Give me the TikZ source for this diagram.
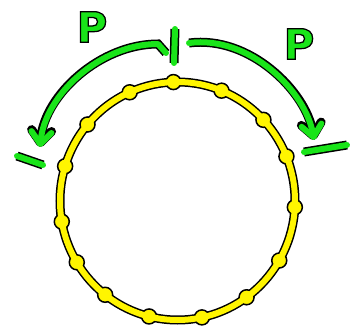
\documentclass[tikz,border=0pt]{standalone}
\usepackage{tikz}
\usepackage{fontspec}
\usetikzlibrary{arrows.meta}
\newfontfamily\pfont[FakeBold=3]{DejaVu Sans}
\definecolor{pgreen}{RGB}{25,228,25}
\definecolor{pyellow}{RGB}{255,245,0}
\tikzset{
  greenstroke/.style={draw=pgreen, line width=6pt, line cap=round,
    line join=round, preaction={draw=black, line width=9pt}},
  greenarrow/.style={greenstroke,
    -{Straight Barb[round, length=12pt, width=20pt]}},
  ringblack/.style={draw=black, line width=9pt},
  ringyellow/.style={draw=pyellow, line width=6pt},
  ringdot/.style={circle, draw=black, fill=pyellow, line width=1.5pt,
    minimum size=15pt, inner sep=0pt},
  plabel/.style={inner sep=0pt,
    font=\fontsize{42}{42}\pfont\bfseries}
}
\begin{document}
\begin{tikzpicture}[x=1pt, y=-1pt]
  \useasboundingbox (0,0) rectangle (357,329);

  % the ring
  \coordinate (ringc) at (177.5,201);
  \draw[ringblack] (ringc) ellipse [x radius=117.5pt, y radius=119pt];
  \foreach \a [count=\i] in {92,114,140,163,190,211,232,256,282,306,330,357,22,43,68}
    \node[ringdot] (dot\i) at ([shift={(ringc)}]\a:117.5pt and 119pt) {};
  \draw[ringyellow] (ringc) ellipse [x radius=117.5pt, y radius=119pt];

  % ticks
  \coordinate (ttop) at (175,29);
  \coordinate (tbot) at (174,63);
  \coordinate (ltick1) at (17,156);
  \coordinate (ltick2) at (43,165);
  \coordinate (rtick1) at (304,152);
  \coordinate (rtick2) at (347,145);
  \draw[greenstroke] (ttop) -- (tbot);
  \draw[greenstroke] (ltick1) -- (ltick2);
  \draw[greenstroke] (rtick1) -- (rtick2);

  % arrows
  \coordinate (lhook) at (166,53);
  \coordinate (lstart) at (158,44);
  \coordinate (ltip) at (40,147);
  \coordinate (rstart) at (189,43);
  \coordinate (rtip) at (314,140);
  \draw[greenarrow] (lhook) -- (lstart)
    .. controls (100,44) and (45,95) .. (ltip);
  \draw[greenarrow] (rstart) .. controls (250,35) and (306,92) .. (rtip);

  \node[plabel] (pleft) at (92,27)
    {\textcolor{pgreen}{\special{pdf:code 0 0 0 RG}P}};
  \node[plabel] (pright) at (299,44)
    {\textcolor{pgreen}{\special{pdf:code 0 0 0 RG}P}};
\end{tikzpicture}
\end{document}
